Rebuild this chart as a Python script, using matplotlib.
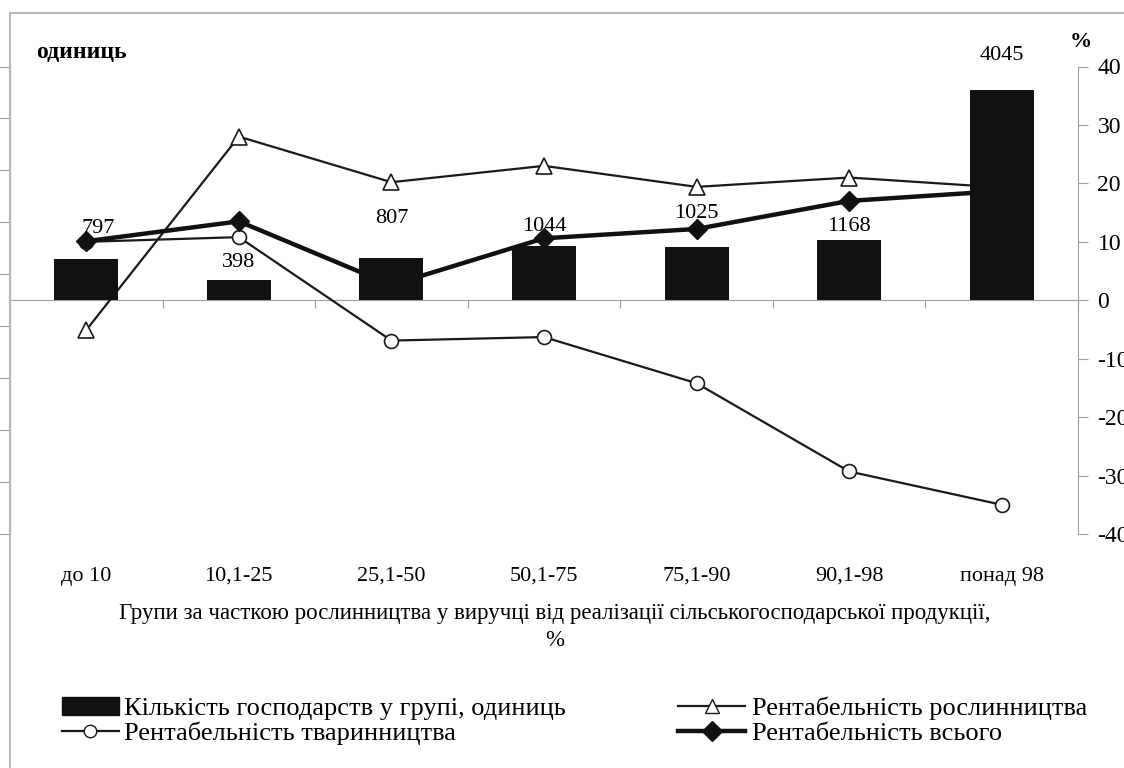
import numpy as np
import matplotlib.pyplot as plt
from matplotlib.lines import Line2D
from matplotlib.patches import Patch

plt.rcParams['font.family'] = ['Liberation Serif', 'DejaVu Serif']
plt.rcParams['axes.unicode_minus'] = False

# data
groups = ['до 10', '10,1-25', '25,1-50', '50,1-75', '75,1-90', '90,1-98', 'понад 98']
farms = [797, 398, 807, 1044, 1025, 1168, 4045]
prof_crop = [-5.1, 28.0, 20.2, 23.0, 19.4, 21.0, 19.3]
prof_animal = [10.0, 10.8, -6.9, -6.3, -14.2, -29.3, -35.0]
prof_total = [10.1, 13.5, 2.6, 10.6, 12.2, 17.0, 18.7]
# where the bar value labels sit (left axis units)
label_y = [1385, 730, 1577, 1423, 1673, 1423, 4712]
label_dx = [0.08, 0.0, 0.0, 0.0, 0.0, 0.0, 0.0]

fs = 16
grey = '#a0a0a0'

fig = plt.figure(figsize=(11.24, 7.68), dpi=100)
ax = fig.add_axes([10/1124, 1-534/768, (1078-10)/1124, (534-66.5)/768])
x = np.arange(len(groups))

# lines on the right axis
ax.plot(x, prof_crop, color='#1a1a1a', lw=1.6, marker='^', ms=11,
        mfc='white', mec='#1a1a1a', mew=1.2, zorder=3)
ax.plot(x, prof_animal, color='#1a1a1a', lw=1.6, marker='o', ms=10,
        mfc='white', mec='#1a1a1a', mew=1.2, zorder=3)
ax.plot(x, prof_total, color='#111111', lw=3.2, marker='D', ms=10,
        mfc='#111111', mec='#111111', zorder=4)
ax.set_ylim(-40, 40)
ax.set_yticks(np.arange(-40, 41, 10))
ax.set_xlim(-0.5, len(groups) - 0.5)
for s in ['top', 'left']:
    ax.spines[s].set_visible(False)
ax.spines['right'].set_color(grey)
ax.spines['bottom'].set_position(('data', 0))
ax.spines['bottom'].set_color(grey)
ax.set_xticks(np.arange(len(groups) + 1) - 0.5)
ax.set_xticklabels([])
ax.tick_params(axis='x', length=6, color=grey, direction='out')
for i, g in enumerate(groups):
    ax.text(i, -0.09, g, transform=ax.get_xaxis_transform(),
            ha='center', va='center', fontsize=fs)

# bars on the left axis, drawn above the lines
ax2 = ax.twinx()
ax.yaxis.tick_right()
ax.tick_params(axis='y', labelsize=fs + 1, length=7, color=grey, pad=7,
               left=False, labelleft=False, right=True, labelright=True)
ax2.bar(x, farms, width=0.42, color='#111111', zorder=2)
ax2.set_ylim(-4500, 4500)
ax2.set_yticks(np.arange(-4500, 4501, 1000))
ax2.yaxis.tick_left()
ax2.tick_params(axis='y', length=8, color=grey, labelleft=False,
                right=False, labelright=False)
for s in ['top', 'right', 'bottom']:
    ax2.spines[s].set_visible(False)
ax2.spines['left'].set_color(grey)
for i, v in enumerate(farms):
    ax2.text(i + label_dx[i], label_y[i], str(v), ha='center', va='center',
             fontsize=fs, clip_on=False, zorder=5)

fig.text(36/1124, 1-53/768, 'одиниць', fontsize=fs + 1, fontweight='bold',
         ha='left', va='center')
fig.text(1081/1124, 1-42/768, '%', fontsize=fs, fontweight='bold',
         ha='center', va='center')

fig.text(555/1124, 1-613/768,
         'Групи за часткою рослинництва у виручці від реалізації сільськогосподарської продукції,',
         fontsize=fs + 0.5, ha='center', va='center')
fig.text(555/1124, 1-641/768, '%', fontsize=fs + 0.5, ha='center', va='center')

# frame lines
fig.add_artist(Line2D([10/1124, 1], [1-13/768, 1-13/768], color='#b8b8b8', lw=1.5))
fig.add_artist(Line2D([10/1124, 10/1124], [0, 1-13/768], color='#b8b8b8', lw=1.5))

lfs = 19
h_bar = Patch(facecolor='#111111', edgecolor='#111111')
h_animal = Line2D([], [], color='#1a1a1a', lw=1.6, marker='o', ms=9, mfc='white')
h_crop = Line2D([], [], color='#1a1a1a', lw=1.6, marker='^', ms=10, mfc='white')
h_total = Line2D([], [], color='#111111', lw=3.2, marker='D', ms=10, mfc='#111111')

leg1 = fig.legend([h_bar, h_animal],
                  ['Кількість господарств у групі, одиниць', 'Рентабельність тваринництва'],
                  loc='center left', bbox_to_anchor=(62/1124, 1-721/768), frameon=False,
                  borderpad=0, borderaxespad=0,
                  fontsize=lfs, handlelength=2.15, handletextpad=0.2, labelspacing=0.05)
leg2 = fig.legend([h_crop, h_total],
                  ['Рентабельність рослинництва', 'Рентабельність всього'],
                  loc='center left', bbox_to_anchor=(678/1124, 1-721/768), frameon=False,
                  borderpad=0, borderaxespad=0,
                  fontsize=lfs, handlelength=2.55, handletextpad=0.25, labelspacing=0.05)

fig.savefig('out.png', dpi=100)
